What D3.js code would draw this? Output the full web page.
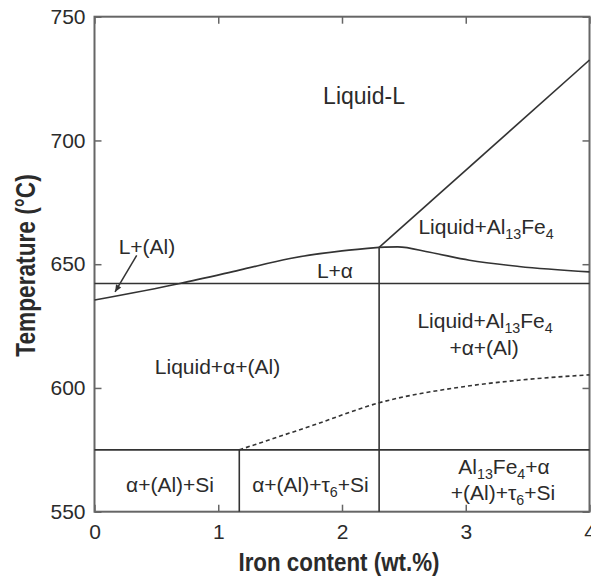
<!DOCTYPE html>
<html>
<head>
<meta charset="utf-8">
<script src="https://cdn.jsdelivr.net/npm/d3@7"></script>
<style>
  html, body { margin: 0; padding: 0; background: #fff; }
  svg { display: block; font-family: "Liberation Sans", Arial, Helvetica, sans-serif; }
</style>
</head>
<body>
<svg id="chart" width="591" height="577"></svg>
<script>
// Axis ticks
const xTicks = [0, 1, 2, 3, 4];
const yTicks = [550, 600, 650, 700, 750];

// Phase boundaries, [Fe wt.%, temperature °C]
const alLiquidus = [[0, 635.5], [0.69, 642.2], [1.17, 647.6], [1.58, 652.3], [2.0, 655.4], [2.3, 656.8]];
const al13Fe4Liquidus = [[2.3, 656.8], [4.0, 732.5]];
const ternaryValley = [[2.3, 656.8], [2.45, 657.0], [2.71, 654.8], [3.03, 651.6], [3.43, 649.1], [4.0, 646.9]];
const eutecticLine = [[0, 642.2], [4.0, 642.2]];
const peritecticVertical = [[2.3, 656.8], [2.3, 550]];
const solidusLine = [[0, 575], [4.0, 575]];
const tau6Vertical = [[1.17, 575], [1.17, 550]];
const tau6Boundary = [[1.17, 575], [1.77, 585], [2.3, 594], [2.98, 600.5], [3.51, 603.5], [4.0, 605.3]];

// Phase-field labels: anchor [Fe wt.%, temperature], text parts (sub = subscript)
const fieldLabels = [
  { at: [2.178, 714.7], size: 23, parts: [{ t: "Liquid-L" }] },
  { at: [3.164, 662.3], parts: [{ t: "Liquid+Al" }, { t: "13", sub: true }, { t: "Fe" }, { t: "4", sub: true }] },
  { at: [1.943, 644.6], parts: [{ t: "L+α" }] },
  { at: [0.424, 654.3], parts: [{ t: "L+(Al)" }] },
  { at: [3.156, 624.1], parts: [{ t: "Liquid+Al" }, { t: "13", sub: true }, { t: "Fe" }, { t: "4", sub: true }] },
  { at: [3.148, 613.3], parts: [{ t: "+α+(Al)" }] },
  { at: [0.994, 605.6], parts: [{ t: "Liquid+α+(Al)" }] },
  { at: [0.61, 558.0], parts: [{ t: "α+(Al)+Si" }] },
  { at: [1.745, 558.0], parts: [{ t: "α+(Al)+τ" }, { t: "6", sub: true }, { t: "+Si" }] },
  { at: [3.309, 565.2], parts: [{ t: "Al" }, { t: "13", sub: true }, { t: "Fe" }, { t: "4", sub: true }, { t: "+α" }] },
  { at: [3.301, 554.7], parts: [{ t: "+(Al)+τ" }, { t: "6", sub: true }, { t: "+Si" }] }
];

// Leader arrow for the narrow L+(Al) field
const leaderArrow = [[0.341, 653.6], [0.166, 638.8]];

const svg = d3.select("#chart");
const margin = { left: 94.5, right: 1.5, top: 16.7, bottom: 65.3 };
const W = 591, H = 577;

const x = d3.scaleLinear().domain([0, 4]).range([margin.left, W - margin.right]);
const y = d3.scaleLinear().domain([550, 750]).range([H - margin.bottom, margin.top]);

const lineColor = "#333";
const frameColor = "#666";
const textColor = "#2b2b2b";

// Axes with inward ticks
const axisFont = 21;
const gB = svg.append("g").attr("transform", `translate(0,${y(550)})`)
  .call(d3.axisBottom(x).tickValues(xTicks).tickFormat(d3.format("d")).tickSizeInner(-7).tickSizeOuter(0).tickPadding(12));
const gL = svg.append("g").attr("transform", `translate(${x(0)},0)`)
  .call(d3.axisLeft(y).tickValues(yTicks).tickFormat(d3.format("d")).tickSizeInner(-7).tickSizeOuter(0).tickPadding(9));
const gT = svg.append("g").attr("transform", `translate(0,${y(750)})`)
  .call(d3.axisTop(x).tickValues(xTicks).tickFormat("").tickSizeInner(-7).tickSizeOuter(0));
const gR = svg.append("g").attr("transform", `translate(${x(4)},0)`)
  .call(d3.axisRight(y).tickValues(yTicks).tickFormat("").tickSizeInner(-7).tickSizeOuter(0));

[gB, gL, gT, gR].forEach(g => {
  g.select(".domain").remove();
  g.selectAll(".tick line").attr("stroke", frameColor).attr("stroke-width", 1.5);
  g.selectAll(".tick text").attr("fill", textColor).attr("font-size", axisFont).attr("font-family", null);
});

// Plot frame
svg.append("rect")
  .attr("x", x(0)).attr("y", y(750))
  .attr("width", x(4) - x(0)).attr("height", y(550) - y(750))
  .attr("fill", "none").attr("stroke", frameColor).attr("stroke-width", 2);

// Phase boundaries
const straight = d3.line().x(d => x(d[0])).y(d => y(d[1]));
const smooth = d3.line().x(d => x(d[0])).y(d => y(d[1])).curve(d3.curveMonotoneX);

const boundaries = [
  { d: eutecticLine, gen: straight },
  { d: solidusLine, gen: straight },
  { d: peritecticVertical, gen: straight },
  { d: tau6Vertical, gen: straight },
  { d: al13Fe4Liquidus, gen: straight },
  { d: alLiquidus, gen: smooth },
  { d: ternaryValley, gen: smooth }
];
svg.append("g").selectAll("path").data(boundaries).join("path")
  .attr("d", b => b.gen(b.d))
  .attr("fill", "none").attr("stroke", lineColor).attr("stroke-width", 1.6);

svg.append("path")
  .attr("d", smooth(tau6Boundary))
  .attr("fill", "none").attr("stroke", lineColor).attr("stroke-width", 1.6)
  .attr("stroke-dasharray", "4,3");

// Leader arrow
const [a0, a1] = leaderArrow.map(p => [x(p[0]), y(p[1])]);
svg.append("line")
  .attr("x1", a0[0]).attr("y1", a0[1]).attr("x2", a1[0]).attr("y2", a1[1])
  .attr("stroke", lineColor).attr("stroke-width", 1.5);
{
  const ang = Math.atan2(a1[1] - a0[1], a1[0] - a0[0]);
  const len = 7, half = 3;
  const bx = a1[0] - len * Math.cos(ang), by = a1[1] - len * Math.sin(ang);
  const px = -Math.sin(ang) * half, py = Math.cos(ang) * half;
  svg.append("path")
    .attr("d", `M${a1[0]},${a1[1]}L${bx + px},${by + py}L${bx - px},${by - py}Z`)
    .attr("fill", lineColor);
}

// Phase-field labels
const labels = svg.append("g").attr("fill", textColor).attr("text-anchor", "middle");
fieldLabels.forEach(l => {
  const fs = l.size || 21;
  const t = labels.append("text")
    .attr("x", x(l.at[0])).attr("y", y(l.at[1]))
    .attr("font-size", fs);
  let shifted = false;
  l.parts.forEach(p => {
    const ts = t.append("tspan").text(p.t);
    if (p.sub && !shifted) { ts.attr("dy", 5).attr("font-size", fs * 0.68); shifted = true; }
    else if (p.sub) { ts.attr("font-size", fs * 0.68); }
    else if (!p.sub && shifted) { ts.attr("dy", -5); shifted = false; }
  });
});

// Axis titles (bold, narrow set)
svg.append("text")
  .attr("transform", `translate(${(x(0) + x(4)) / 2 - 3},571) scale(0.86,1)`)
  .attr("text-anchor", "middle").attr("font-weight", "bold").attr("font-size", 26)
  .attr("fill", textColor)
  .text("Iron content (wt.%)");

svg.append("text")
  .attr("transform", `translate(35,265.5) rotate(-90) scale(0.84,1)`)
  .attr("text-anchor", "middle").attr("font-weight", "bold").attr("font-size", 27)
  .attr("fill", textColor)
  .text("Temperature (°C)");
</script>
</body>
</html>
